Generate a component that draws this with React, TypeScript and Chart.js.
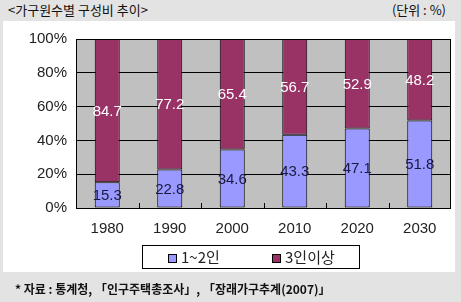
import React, { useEffect, useRef } from "react";
import { Chart, registerables } from "chart.js";

Chart.register(...registerables);

const categories = ["1980", "1990", "2000", "2010", "2020", "2030"];
const small = [15.3, 22.8, 34.6, 43.3, 47.1, 51.8];
const large = [84.7, 77.2, 65.4, 56.7, 52.9, 48.2];
const seriesNames = ["1~2인", "3인이상"];
const yTicks = [0, 20, 40, 60, 80, 100];

const BLUE = "#9999ff";
const PURPLE = "#993366";
const NUM_FONT = "'Liberation Sans', Arial, sans-serif";
const KR_FONT = "'Noto Sans CJK KR', 'DejaVu Sans', sans-serif";

const plotPlugin = {
  id: "plotDecor",
  beforeDraw(chart: any) {
    const { ctx, chartArea: a } = chart;
    ctx.save();
    ctx.fillStyle = "#c0c0c0";
    ctx.fillRect(a.left, a.top, a.right - a.left, a.bottom - a.top);
    ctx.restore();
  },
  beforeDatasetsDraw(chart: any) {
    const { ctx, chartArea: a } = chart;
    const xs = chart.scales.x;
    ctx.save();
    ctx.strokeStyle = "#000";
    ctx.lineWidth = 1;
    ctx.beginPath();
    for (let i = 1; i < categories.length; i++) {
      const x = Math.round((xs.getPixelForValue(i - 1) + xs.getPixelForValue(i)) / 2) + 0.5;
      ctx.moveTo(x, a.bottom);
      ctx.lineTo(x, a.bottom - 5);
    }
    ctx.stroke();
    ctx.strokeRect(a.left + 0.5, a.top + 0.5, a.right - a.left - 1, a.bottom - a.top);
    ctx.restore();
  },
  afterDatasetsDraw(chart: any) {
    const { ctx } = chart;
    const colors = ["#1a1a40", "#ffffff"];
    ctx.save();
    ctx.font = `15px ${NUM_FONT}`;
    ctx.textAlign = "center";
    ctx.textBaseline = "middle";
    chart.data.datasets.forEach((ds: any, di: number) => {
      const meta = chart.getDatasetMeta(di);
      ctx.fillStyle = colors[di];
      meta.data.forEach((el: any, i: number) => {
        const p = el.getProps(["x", "y", "base"], true);
        ctx.fillText(ds.data[i].toFixed(1), p.x, (p.y + p.base) / 2 + 1);
      });
    });
    ctx.restore();
  },
};

export default function App() {
  const ref = useRef<HTMLCanvasElement>(null);
  useEffect(() => {
    if (!ref.current) return;
    const chart = new Chart(ref.current, {
      type: "bar",
      data: {
        labels: categories,
        datasets: [
          { label: seriesNames[0], data: small, backgroundColor: BLUE, borderColor: "#000", borderWidth: 1, borderSkipped: false },
          { label: seriesNames[1], data: large, backgroundColor: PURPLE, borderColor: "#000", borderWidth: 1, borderSkipped: false },
        ],
      },
      options: {
        animation: false,
        responsive: true,
        maintainAspectRatio: false,
        layout: { padding: { top: 16, right: 4, left: 0, bottom: 0 } },
        datasets: { bar: { barPercentage: 0.4, categoryPercentage: 1 } },
        plugins: { legend: { display: false }, tooltip: { enabled: false } },
        scales: {
          x: {
            stacked: true,
            grid: { display: false, drawTicks: false },
            border: { display: false },
            ticks: { color: "#222", font: { family: NUM_FONT, size: 15 }, padding: 12 },
            afterFit(s: any) { s.height = 64; },
          },
          y: {
            stacked: true,
            min: 0,
            max: 100,
            afterBuildTicks(s: any) { s.ticks = yTicks.map((v) => ({ value: v })); },
            grid: { color: "#000", drawTicks: false, lineWidth: 1 },
            border: { display: false },
            ticks: { color: "#222", font: { family: NUM_FONT, size: 15 }, padding: 9, callback: (v: any) => v + "%" },
            afterFit(s: any) { s.width = 73; },
          },
        },
      },
      plugins: [plotPlugin],
    });
    return () => chart.destroy();
  }, []);

  const sq = (c: string) => ({
    display: "inline-block",
    width: 7,
    height: 7,
    background: c,
    border: "1px solid #000",
    marginRight: 4,
    verticalAlign: "middle",
  });

  return (
    <div style={{ position: "absolute", left: 0, top: 0, width: 461, height: 302, background: "#e3e3e3", overflow: "hidden", fontFamily: KR_FONT }}>
      <div style={{ position: "absolute", left: 8, top: 1, fontSize: 13, lineHeight: "18px", color: "#111", whiteSpace: "nowrap" }}>&lt;가구원수별 구성비 추이&gt;</div>
      <div style={{ position: "absolute", right: 15, top: 1, fontSize: 13, lineHeight: "18px", color: "#111", whiteSpace: "nowrap" }}>(단위 : %)</div>
      <div style={{ position: "absolute", left: 3, top: 21, width: 452, height: 251, background: "#fff" }}>
        <canvas ref={ref} />
        <div style={{ position: "absolute", left: 139, top: 224, width: 216, height: 22, border: "1px solid #000", boxSizing: "content-box", fontSize: 15, color: "#222", lineHeight: "22px" }}>
          <span style={{ position: "absolute", left: 25, top: 0, whiteSpace: "nowrap" }}><span style={sq(BLUE)} />{seriesNames[0]}</span>
          <span style={{ position: "absolute", left: 129, top: 0, whiteSpace: "nowrap" }}><span style={sq(PURPLE)} />{seriesNames[1]}</span>
        </div>
      </div>
      <div style={{ position: "absolute", left: 15, top: 280, fontSize: 12, lineHeight: "18px", fontWeight: "bold", color: "#111", whiteSpace: "nowrap" }}>* 자료 : 통계청, 「인구주택총조사」, 「장래가구추계(2007)」</div>
    </div>
  );
}
